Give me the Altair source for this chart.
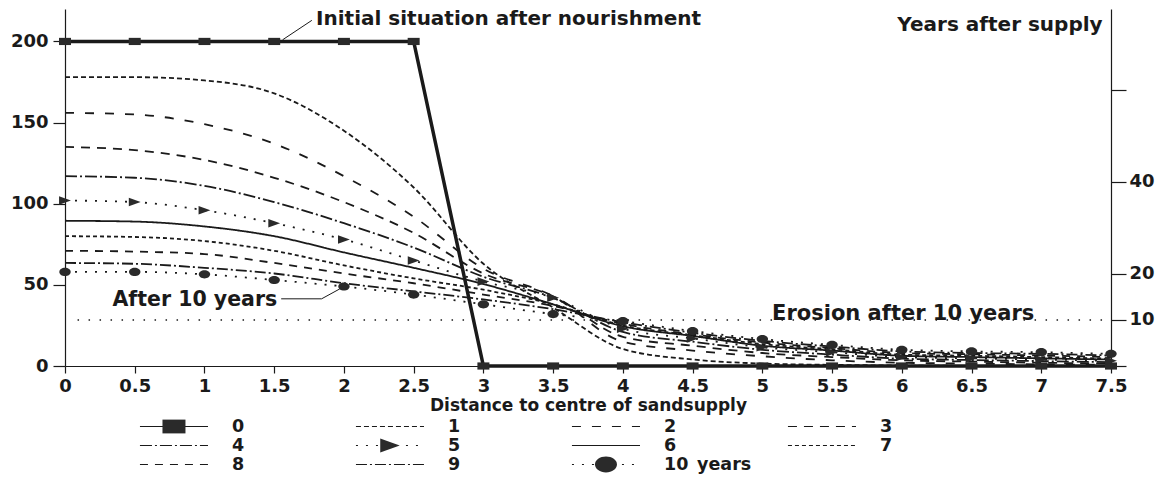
import altair as alt
import pandas as pd

# ---------------- data ----------------
X = [0, 0.5, 1, 1.5, 2, 2.5, 3, 3.5, 4, 4.5, 5, 5.5, 6, 6.5, 7, 7.5]
Y0 = [200, 200, 200, 200, 200, 200, 0, 0, 0, 0, 0, 0, 0, 0, 0, 0]
Y1 = [178, 178, 176, 168, 145, 110, 63, 36, 10.5, 4, 1.5, 0.7, 0.3, 0.1, 0, 0]
Y2 = [156, 155, 149, 137, 117, 92, 60, 43, 15, 9.5, 6, 3.5, 2, 1.5, 1, 0.7]
Y3 = [135, 133, 127, 116, 101, 82, 57, 43, 18, 12.5, 8, 5.5, 3.5, 2.7, 2, 1.5]
Y4 = [117, 116, 111, 101, 88, 73, 55, 42, 21, 15, 10, 7, 4.5, 3.7, 3, 2.4]
Y5 = [102, 101, 96, 88, 78, 65, 52, 42, 23, 17, 11.5, 8.5, 5.5, 4.7, 4, 3.2]
Y6 = [89.5, 89, 86, 80, 70, 60.5, 50.5, 38, 24.5, 18.5, 12.5, 9.5, 6.3, 5.5, 4.7, 4]
Y7 = [80, 79.5, 77, 71, 62, 54, 47, 38, 25, 19, 13.5, 10.3, 7, 6.3, 5.5, 4.5]
Y8 = [71, 70.5, 69, 63.5, 57, 51, 44, 37, 26, 19.5, 14.5, 11, 8, 7.2, 6.5, 5.5]
Y9 = [63.5, 63, 60.5, 57, 51, 46, 41, 35, 27, 20.5, 15.5, 12, 9, 8, 7.5, 6.5]
Y10 = [58, 58, 56.5, 53, 49, 44, 38, 32, 27.6, 21.5, 16.6, 13, 10, 9, 8.5, 7.5]

YEARS = ["0", "1", "2", "3", "4", "5", "6", "7", "8", "9", "10"]
SERIES = [Y0, Y1, Y2, Y3, Y4, Y5, Y6, Y7, Y8, Y9, Y10]
LEGEND_LABELS = ["0", "1", "2", "3", "4", "5", "6", "7", "8", "9", "10\u2002years"]
DASHES = [[1, 0], [5, 3], [9, 11], [9, 7], [12, 3, 2, 3], [2, 8],
          [1, 0], [4, 3], [8, 7], [11, 3, 2, 3], [2, 8]]

X_TICKS = [0, 0.5, 1, 1.5, 2, 2.5, 3, 3.5, 4, 4.5, 5, 5.5, 6, 6.5, 7, 7.5]
Y_TICKS = [0, 50, 100, 150, 200]
R_TICKS = [0, 10, 20, 40, 60]

EROSION_X = [0.09, 7.45]
EROSION_LEVEL = 10

ANN_LEFT_TEXT = ["Initial situation after nourishment"]
ANN_LEFT_X = [1.8]
ANN_LEFT_Y = [214]
AFTER_TEXT = "After 10 years"
AFTER_X = 0.34
AFTER_Y = 40.7
ANN_RIGHT_TEXT = ["Years after supply"]
ANN_RIGHT_X = [7.44]
ANN_RIGHT_Y = [210]
EROSION_TEXT = "Erosion after 10 years"
EROSION_TEXT_X = 5.07
EROSION_TEXT_Y = 11.3

LEADER_ID = ["a", "a", "b", "b", "b"]
LEADER_X = [1.56, 1.77, 1.55, 1.84, 1.97]
LEADER_Y = [201, 213, 41.4, 41.4, 47.5]

FONT = "DejaVu Sans"
INK = "#1a1a1a"

SQUARE = "M-1,-0.6H1V0.6H-1Z"
TRIANGLE = "M-1,-0.72L1,0L-1,0.72Z"
ELLIPSE = "M-1,0A1,0.72,0,1,1,1,0A1,0.72,0,1,1,-1,0Z"

# ---------------- tables ----------------
rows = []
for name, ys in zip(YEARS, SERIES):
    for xv, yv in zip(X, ys):
        rows.append({"year": name, "x": xv, "y": yv})
df = pd.DataFrame(rows)
df_curves = df[df.year != "0"]
df0 = df[df.year == "0"]
df5 = df[df.year == "5"]
df10 = df[df.year == "10"]

W, H = 1046, 357
xscale = alt.Scale(domain=[0, 7.5], nice=False, zero=False)
yscale = alt.Scale(domain=[0, 220], nice=False)
rscale = alt.Scale(domain=[0, 77.6], nice=False)

XAX = dict(values=X_TICKS, format="~g", title="Distance to centre of sandsupply",
           tickSize=7, labelPadding=4, titlePadding=2, labelFlush=False,
           titleFont=FONT, titleFontWeight="bold", titleFontSize=17, titleColor=INK)
YAX = dict(values=Y_TICKS, title=None, tickSize=12, labelPadding=5, orient="left")
RAX = dict(values=R_TICKS, orient="right", title=None, tickSize=15, labelPadding=3,
           labelExpr="(datum.value == 0 || datum.value == 60) ? '' : datum.label")


def xenc(field="x"):
    return alt.X(f"{field}:Q", scale=xscale, axis=alt.Axis(**XAX))


def yenc(field="y"):
    return alt.Y(f"{field}:Q", scale=yscale, axis=alt.Axis(**YAX))


def renc(field):
    return alt.Y(f"{field}:Q", scale=rscale, axis=alt.Axis(**RAX))


dash_scale = alt.Scale(domain=YEARS, range=DASHES)

curves = alt.Chart(df_curves).mark_line(color=INK, strokeWidth=1.8, interpolate="monotone").encode(
    x=xenc(), y=yenc(),
    detail="year:N",
    order=alt.Order("x:Q"),
    strokeDash=alt.StrokeDash("year:N", scale=dash_scale, legend=None),
)

line0 = alt.Chart(df0).mark_line(color=INK, strokeWidth=3.5).encode(
    x=xenc(), y=yenc(), order=alt.Order("x:Q"))


def markers(d, shape, size):
    return alt.Chart(d).mark_point(filled=True, shape=shape, size=size, color="#2a2a2a", opacity=1).encode(
        x=xenc(), y=yenc())


m0 = markers(df0, SQUARE, 144)
m5 = markers(df5, TRIANGLE, 140)
m10 = markers(df10, ELLIPSE, 130)

ann_left = alt.Chart(pd.DataFrame({"x": ANN_LEFT_X, "y": ANN_LEFT_Y, "t": ANN_LEFT_TEXT})).mark_text(
    align="left", baseline="middle", font=FONT, fontWeight="bold", fontSize=20, color=INK).encode(
    x=xenc(), y=yenc(), text="t:N")
ann_after = alt.Chart(pd.DataFrame({"x": [AFTER_X], "y": [AFTER_Y], "t": [AFTER_TEXT]})).mark_text(
    align="left", baseline="middle", font=FONT, fontWeight="bold", fontSize=20.5, color=INK).encode(
    x=xenc(), y=yenc(), text="t:N")
ann_right = alt.Chart(pd.DataFrame({"x": ANN_RIGHT_X, "y": ANN_RIGHT_Y, "t": ANN_RIGHT_TEXT})).mark_text(
    align="right", baseline="middle", font=FONT, fontWeight="bold", fontSize=20, color=INK).encode(
    x=xenc(), y=yenc(), text="t:N")

leaders = alt.Chart(pd.DataFrame({"id": LEADER_ID, "x": LEADER_X, "y": LEADER_Y,
                                  "o": list(range(len(LEADER_X)))})).mark_line(
    color=INK, strokeWidth=1).encode(
    x=xenc(), y=yenc(), detail="id:N", order="o:Q")

left = alt.layer(curves, line0, m0, m5, m10, leaders, ann_left, ann_after, ann_right)

erosion = alt.Chart(pd.DataFrame({"x": [EROSION_X[0]], "x2": [EROSION_X[1]], "y": [EROSION_LEVEL]})).mark_rule(
    color=INK, strokeWidth=1.4, strokeDash=[1.5, 9.5]).encode(
    x=xenc(), x2="x2:Q", y=renc("y"))
erosion_text = alt.Chart(pd.DataFrame({"x": [EROSION_TEXT_X], "y": [EROSION_TEXT_Y], "t": [EROSION_TEXT]})).mark_text(
    align="left", baseline="middle", font=FONT, fontWeight="bold", fontSize=21, color=INK).encode(
    x=xenc(), y=renc("y"), text="t:N")
right = alt.layer(erosion, erosion_text)

plot = alt.layer(left, right).resolve_scale(y="independent").properties(width=W, height=H)

# ---------------- legend block ----------------
COL_UNIT_PX = 216.0
LEG_COLS = [0, 1, 2, 3, 0, 1, 2, 3, 0, 1, 2]
LEG_ROWS = [0, 0, 0, 0, 1, 1, 1, 1, 2, 2, 2]
LEG_LINE_START, LEG_LINE_END, LEG_LABEL = 0.347, 0.662, 0.773

leg = pd.DataFrame({"year": YEARS, "label": LEGEND_LABELS, "col": LEG_COLS, "row": LEG_ROWS})
leg["x1"] = leg.col + LEG_LINE_START
leg["x2"] = leg.col + LEG_LINE_END
leg["xm"] = (leg.x1 + leg.x2) / 2
leg["xl"] = leg.col + LEG_LABEL

lx = alt.Scale(domain=[0, W / COL_UNIT_PX], nice=False, zero=False)
ly = alt.Scale(domain=[-0.5, 2.5], reverse=True, nice=False, zero=False)
LH = 57

leg_lines = alt.Chart(leg).mark_rule(color=INK, strokeWidth=1.2).encode(
    x=alt.X("x1:Q", scale=lx, axis=None), x2="x2:Q",
    y=alt.Y("row:Q", scale=ly, axis=None),
    strokeDash=alt.StrokeDash("year:N", scale=dash_scale, legend=None))


def leg_marker(name, shape, size):
    return alt.Chart(leg[leg.year == name]).mark_point(filled=True, shape=shape, size=size,
                                                       color="#2a2a2a", opacity=1).encode(
        x=alt.X("xm:Q", scale=lx, axis=None), y=alt.Y("row:Q", scale=ly, axis=None))


leg_text = alt.Chart(leg).mark_text(align="left", baseline="middle", font=FONT, fontWeight="bold",
                                    fontSize=17.5, color=INK).encode(
    x=alt.X("xl:Q", scale=lx, axis=None), y=alt.Y("row:Q", scale=ly, axis=None), text="label:N")

legend = alt.layer(leg_lines, leg_marker("0", SQUARE, 529), leg_marker("5", TRIANGLE, 380),
                   leg_marker("10", ELLIPSE, 484), leg_text).properties(width=W, height=LH)

chart = alt.vconcat(plot, legend, spacing=4).properties(
    padding={"left": 10, "top": 8, "right": 0, "bottom": 0}
).configure_view(stroke=None).configure_axis(
    grid=False, labelFont=FONT, labelFontWeight="bold", labelFontSize=18, labelColor=INK,
    domainColor=INK, tickColor=INK, domainWidth=1.2, tickWidth=1.2
)

chart.save("out.html", embed_options={"renderer": "svg", "actions": False})
